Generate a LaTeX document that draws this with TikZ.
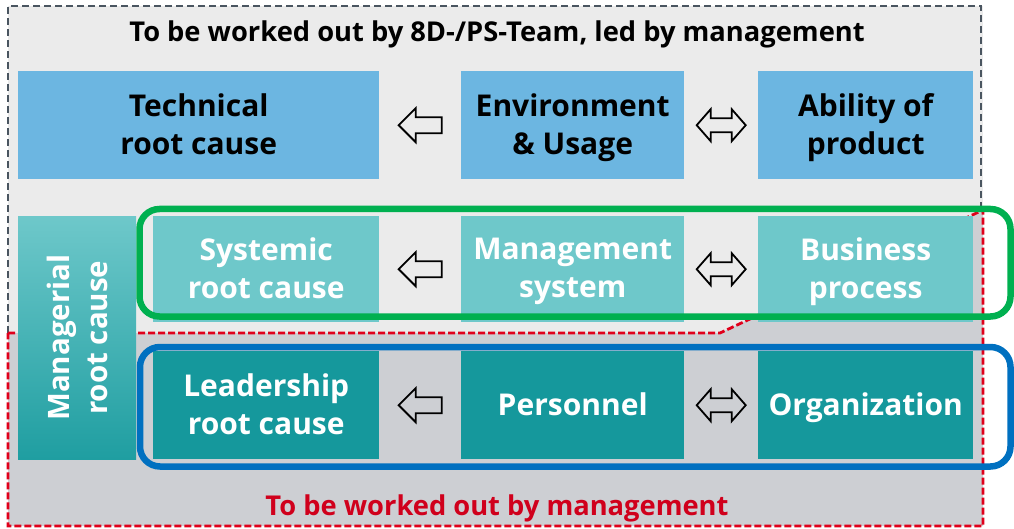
\documentclass[tikz,border=0pt]{standalone}
\usepackage{fontspec}
\setmainfont{Open Sans}
\usetikzlibrary{calc}
\definecolor{bglight}{HTML}{EBEBEB}
\definecolor{bgdark}{HTML}{CDCFD3}
\definecolor{techblue}{HTML}{6CB6E1}
\definecolor{lteal}{HTML}{6EC8CA}
\definecolor{dteal}{HTML}{15989C}
\definecolor{mgrbot}{HTML}{1F9EA1}
\definecolor{redd}{HTML}{E0001B}
\definecolor{redtext}{HTML}{D0001C}
\definecolor{grayd}{HTML}{4A5560}
\definecolor{greenf}{HTML}{00B050}
\definecolor{bluef}{HTML}{0070C0}
\tikzset{
  cell/.style={anchor=north west, inner sep=0pt, minimum height=108pt},
  celltext/.style={align=center, inner sep=0pt, yshift=-2.5pt, font=\fontsize{30}{38}\selectfont\bfseries,
    execute at begin node={\vphantom{bg}}, execute at end node={\vphantom{bg}}},
  row1/.style={cell, fill=techblue},
  row2/.style={cell, fill=lteal},
  row3/.style={cell, fill=dteal},
  arrowline/.style={draw=black, line width=1.8pt, line join=miter},
  larrow/.pic={\draw[arrowline] (-21.5,0) -- (-4.5,-17) -- (-4.5,-8) -- (21.5,-8) -- (21.5,8) -- (-4.5,8) -- (-4.5,17) -- cycle;},
  darrow/.pic={\draw[arrowline] (-24.5,0) -- (-10.5,-16) -- (-10.5,-7) -- (10.5,-7) -- (10.5,-16) -- (24.5,0) -- (10.5,16) -- (10.5,7) -- (-10.5,7) -- (-10.5,16) -- cycle;},
  frame/.style={line width=6.5pt, rounded corners=20pt},
  titletext/.style={font=\fontsize{27.3}{34}\selectfont\bfseries, anchor=base}
}
\begin{document}
\begin{tikzpicture}[x=1pt,y=-1pt]
\useasboundingbox (0,0) rectangle (1014,529);
% backgrounds
\fill[bglight] (8,6) rectangle (983,526);
\fill[bgdark] (8,333) -- (720,333) -- (983,210) -- (983,526) -- (8,526) -- cycle;
\draw[grayd, line width=2.6pt, dash pattern=on 7pt off 4pt] (8,333) -- (8,6) -- (981,6) -- (981,211);
\draw[redd, line width=2.8pt, dash pattern=on 7pt off 3pt] (8,333) -- (720,333) -- (983,210) -- (983,526) -- (8,526) -- cycle;
% titles
\node[titletext, text=black] (t1) at (497,42) {To be worked out by 8D-/PS-Team, led by management};
\node[titletext, text=redtext] (t2) at (497,515) {To be worked out by management};
% row 1
\node[row1, minimum width=361pt] (tech) at (18,71) {};
\node[row1, minimum width=223pt] (env) at (461,71) {};
\node[row1, minimum width=215pt] (abil) at (758,71) {};
% row 2
\node[row2, minimum width=226pt, minimum height=106pt] (sys) at (153,216) {};
\node[row2, minimum width=223pt, minimum height=106pt] (mgmt) at (461,216) {};
\node[row2, minimum width=215pt, minimum height=106pt] (bus) at (758,216) {};
% row 3
\node[row3, minimum width=226pt] (lead) at (153,351) {};
\node[row3, minimum width=223pt] (pers) at (461,351) {};
\node[row3, minimum width=215pt] (org) at (758,351) {};
% texts
\node[celltext, text=black] (techt) at (tech.center) {Technical\\root cause};
\node[celltext, text=black] (envt) at (env.center) {Environment\\\& Usage};
\node[celltext, text=black] (abilt) at (abil.center) {Ability of\\product};
\node[celltext, text=white] (syst) at (sys.center) {Systemic\\root cause};
\node[celltext, text=white] (mgmtt) at (mgmt.center) {Management\\system};
\node[celltext, text=white] (bust) at (bus.center) {Business\\process};
\node[celltext, text=white] (leadt) at (lead.center) {Leadership\\root cause};
\node[celltext, text=white] (perst) at (pers.center) {Personnel};
\node[celltext, text=white] (orgt) at (org.center) {Organization};
% managerial
\node[anchor=north west, inner sep=0pt, minimum width=118pt, minimum height=243pt, top color=lteal, bottom color=mgrbot] (mgr) at (18,216) {};
\node[rotate=90, align=center, text=white, font=\fontsize{29.5}{38}\selectfont\bfseries] (mgrt) at (mgr.center) {Managerial\\root cause};
% arrows
\pic at ($(tech.east)!0.5!(env.west)$) {larrow};
\pic at ($(env.east)!0.5!(abil.west)$) {darrow};
\pic at ($(sys.east)!0.5!(mgmt.west)$) {larrow};
\pic at ($(mgmt.east)!0.5!(bus.west)$) {darrow};
\pic at ($(lead.east)!0.5!(pers.west)$) {larrow};
\pic at ($(pers.east)!0.5!(org.west)$) {darrow};
% frames
\draw[frame, greenf] (139.5,209) rectangle (1010.5,316.5);
\draw[frame, bluef] (140,347) rectangle (1010.5,466.5);
\end{tikzpicture}
\end{document}
